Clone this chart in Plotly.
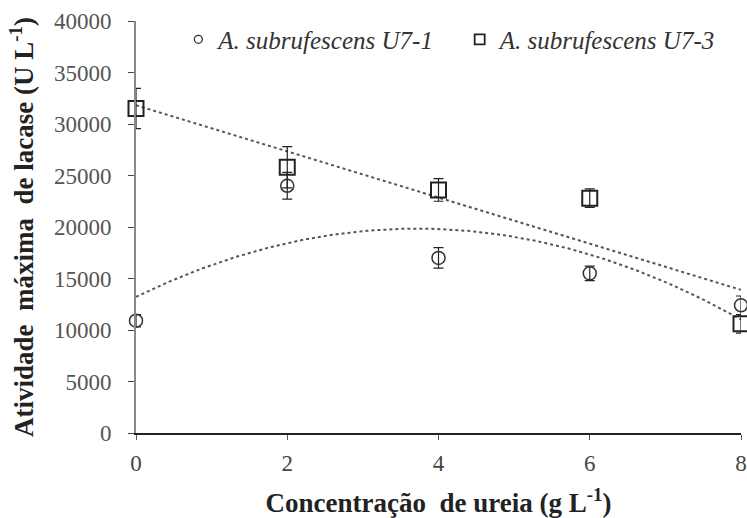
import numpy as np
import plotly.graph_objects as go

# Urea concentration (g/L)
urea = [0, 2, 4, 6, 8]

# Maximum laccase activity (U/L) and standard deviations
u71_activity = [10900, 24000, 17000, 15500, 12400]
u71_sd = [600, 1300, 1000, 700, 900]
u73_activity = [31500, 25800, 23600, 22800, 10600]
u73_sd = [1950, 2000, 1100, 900, 900]

label_u71 = "A. subrufescens U7-1"
label_u73 = "A. subrufescens U7-3"

y_ticks = [0, 5000, 10000, 15000, 20000, 25000, 30000, 35000, 40000]
x_ticks = [0, 2, 4, 6, 8]

serif = "Liberation Serif"

# Trend lines: quadratic for U7-1, linear for U7-3
xs = np.linspace(0, 8, 200)
fit_u71 = np.polyval(np.polyfit(urea, u71_activity, 2), xs)
fit_u73 = np.polyval(np.polyfit(urea, u73_activity, 1), xs)

fig = go.Figure()

trend_style = dict(color="#555555", width=2, dash="dot")
fig.add_trace(go.Scatter(x=xs, y=fit_u71, mode="lines", line=trend_style,
                         showlegend=False, hoverinfo="skip"))
fig.add_trace(go.Scatter(x=xs, y=fit_u73, mode="lines", line=trend_style,
                         showlegend=False, hoverinfo="skip"))

err_style = dict(type="data", thickness=1.2, width=5, color="#222222")

fig.add_trace(go.Scatter(
    x=urea, y=u71_activity, mode="markers", showlegend=False,
    marker=dict(symbol="circle-open", size=13, color="#333333",
                line=dict(width=1.5, color="#333333")),
    error_y=dict(array=u71_sd, **err_style), cliponaxis=False))

fig.add_trace(go.Scatter(
    x=urea, y=u73_activity, mode="markers", showlegend=False,
    marker=dict(symbol="square-open", size=15, color="#222222",
                line=dict(width=2, color="#222222")),
    error_y=dict(array=u73_sd, **err_style), cliponaxis=False))

# Legend entries with small symbols, one legend box per strain
fig.add_trace(go.Scatter(
    x=[None], y=[None], mode="markers", name=label_u71, legend="legend",
    marker=dict(symbol="circle-open", size=8, color="#333333",
                line=dict(width=1.3, color="#333333"))))
fig.add_trace(go.Scatter(
    x=[None], y=[None], mode="markers", name=label_u73, legend="legend2",
    marker=dict(symbol="square-open", size=10, color="#222222",
                line=dict(width=1.8, color="#222222"))))

legend_font = dict(family=serif, size=25, color="#333333", style="italic")
legend_common = dict(y=0.955, xanchor="left", yanchor="middle", font=legend_font,
                     itemwidth=30, bgcolor="rgba(0,0,0,0)")

fig.update_layout(
    width=747, height=518,
    margin=dict(l=136, r=6, t=21, b=85),
    paper_bgcolor="white", plot_bgcolor="white",
    font=dict(family=serif, color="#444444", size=22),
    legend=dict(x=0.07, **legend_common),
    legend2=dict(x=0.535, **legend_common),
    xaxis=dict(
        range=[0, 8], tickvals=x_ticks, ticktext=[str(v) for v in x_ticks],
        showgrid=False, zeroline=False, automargin=False,
        showline=True, linecolor="#222222", linewidth=1.5,
        ticks="outside", ticklen=5, tickcolor="#555555", ticklabelstandoff=4,
        tickfont=dict(family=serif, size=23, color="#444444"),
        title=dict(text="<b>Concentração  de ureia (g L<sup>-1</sup>)</b>",
                   font=dict(family=serif, size=27, color="#222222"), standoff=21),
    ),
    yaxis=dict(
        range=[0, 40000], tickvals=y_ticks, ticktext=[str(v) for v in y_ticks],
        showgrid=False, zeroline=False, showline=True, linecolor="#888888", linewidth=2,
        ticks="outside", ticklen=6, tickcolor="#444444", ticklabelstandoff=12,
        tickfont=dict(family=serif, size=23, color="#555555"),
        title=dict(text="<b>Atividade  máxima  de lacase (U L<sup>-1</sup>)</b>",
                   font=dict(family=serif, size=27, color="#222222"), standoff=12),
    ),
)

fig.write_html("out.html")
